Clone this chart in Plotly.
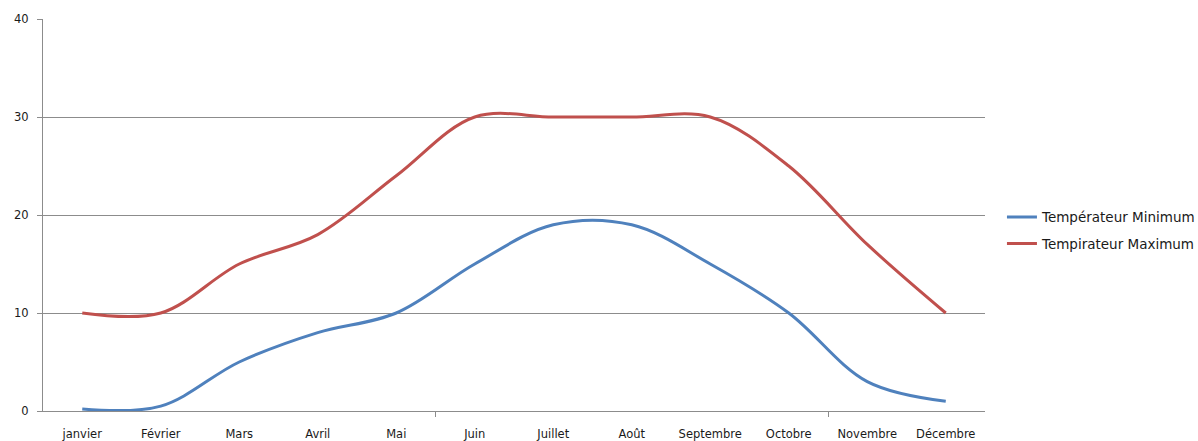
import plotly.graph_objects as go

# Monthly temperatures (°C)
mois = ["janvier", "Février", "Mars", "Avril", "Mai", "Juin", "Juillet",
        "Août", "Septembre", "Octobre", "Novembre", "Décembre"]
temp_min = [0.2, 0.5, 5, 8, 10, 15, 19, 19, 15, 10, 3, 1]
temp_max = [10, 10, 15, 18, 24, 30, 30, 30, 30, 25, 17, 10]
y_ticks = [0, 10, 20, 30, 40]

idx = list(range(len(mois)))
grid = "#8c8c8c"
font_family = "DejaVu Sans"

fig = go.Figure()
fig.add_trace(go.Scatter(
    x=idx, y=temp_min, mode="lines", name="Températeur Minimum",
    line=dict(color="#4F81BD", width=3, shape="spline", smoothing=1),
    legendgroup="min",
))
fig.add_trace(go.Scatter(
    x=idx, y=temp_max, mode="lines", name="Tempirateur Maximum",
    line=dict(color="#C0504D", width=3, shape="spline", smoothing=1),
    legendgroup="max",
))

fig.update_layout(
    width=1198, height=441,
    margin=dict(l=43, r=213, t=19, b=30, autoexpand=False),
    paper_bgcolor="white", plot_bgcolor="white",
    font=dict(family=font_family, size=11.5, color="#1a1a1a"),
    showlegend=True,
    legend=dict(
        x=1.018, y=0.46, xanchor="left", yanchor="middle",
        font=dict(size=13.5, color="#1a1a1a"),
        tracegroupgap=6, itemwidth=30,
        bgcolor="rgba(0,0,0,0)",
    ),
)

fig.update_xaxes(
    range=[-0.5, len(mois) - 0.5],
    tickmode="array", tickvals=idx, ticktext=mois,
    ticks="", showgrid=False, zeroline=False,
    showline=True, linecolor=grid, linewidth=1,
    ticklabelstandoff=12, automargin=False,
    minor=dict(tickmode="array", tickvals=[4.5, 9.5], ticks="outside",
               ticklen=5, tickcolor=grid, tickwidth=1, showgrid=False),
)
fig.update_yaxes(
    range=[0, 40],
    tickmode="array", tickvals=y_ticks,
    ticks="outside", ticklen=5, tickcolor=grid, tickwidth=1,
    showgrid=True, gridcolor=grid, gridwidth=1,
    zeroline=False, showline=True, linecolor=grid, linewidth=1,
    ticklabelstandoff=6, automargin=False,
)

fig.write_html("out.html")
